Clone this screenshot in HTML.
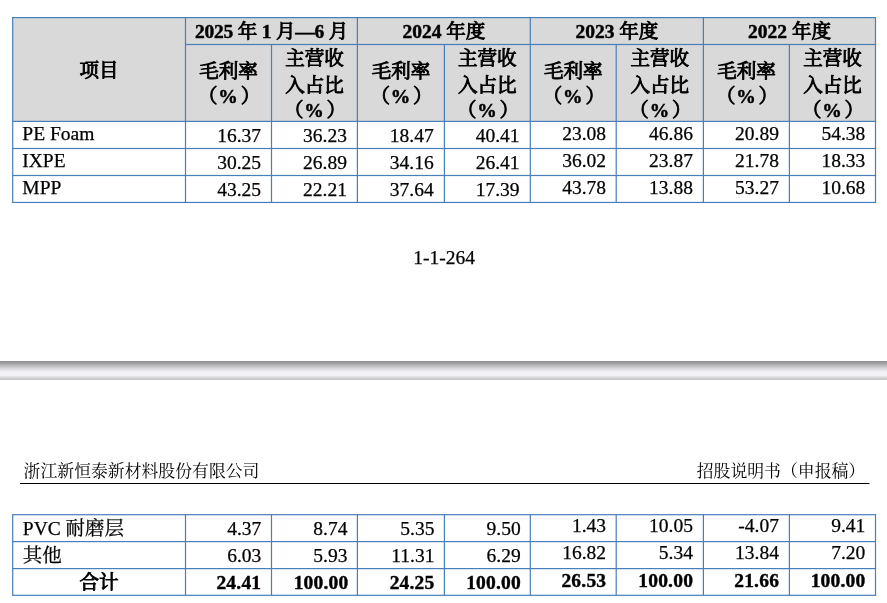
<!DOCTYPE html>
<html lang="zh-CN">
<head>
<meta charset="utf-8">
<title>招股说明书（申报稿）</title>
<style>
html,body{margin:0;padding:0;background:#fff;}
body{width:887px;height:603px;overflow:hidden;position:relative;}
svg{position:absolute;left:0;top:0;display:block;}
text{fill:#000;font-size:19.5px;font-family:"Liberation Serif","Noto Serif CJK SC",serif;}
.b{font-weight:400;stroke:#000;stroke-width:0.25px;}
.bb{font-weight:700;stroke:#000;stroke-width:0.4px;letter-spacing:0.2px;}
.hb{font-weight:700;stroke:#000;stroke-width:0.45px;}
.cj{font-family:"Noto Serif CJK SC",serif;font-weight:400;stroke:#000;stroke-width:0.95px;}
.rh{font-size:16.85px;}
</style>
</head>
<body>
<svg width="887" height="603" viewBox="0 0 887 603">
<defs>
<linearGradient id="sep" gradientUnits="userSpaceOnUse" x1="0" y1="361" x2="0" y2="380">
<stop offset="0.0000" stop-color="#8c8c8e"/>
<stop offset="0.0526" stop-color="#959597"/>
<stop offset="0.1789" stop-color="#adadaf"/>
<stop offset="0.3000" stop-color="#c6c6c8"/>
<stop offset="0.4211" stop-color="#dcdcdf"/>
<stop offset="0.5263" stop-color="#ececf0"/>
<stop offset="0.5789" stop-color="#f2f2f6"/>
<stop offset="0.7526" stop-color="#f2f2f6"/>
<stop offset="0.8158" stop-color="#e4e4e7"/>
<stop offset="0.8895" stop-color="#d4d4d7"/>
<stop offset="0.9632" stop-color="#c8c8cb"/>
<stop offset="1.0000" stop-color="#c6c6c9"/>
</linearGradient>
</defs>
<rect x="12.7" y="17.6" width="862.8" height="103.80000000000001" fill="#d9d9d9"/>
<rect x="12.1" y="17.00" width="864.0" height="1.2" fill="#4a7ebb"/>
<rect x="185.5" y="43.90" width="690.6" height="1.2" fill="#4a7ebb"/>
<rect x="12.1" y="120.80" width="864.0" height="1.2" fill="#4a7ebb"/>
<rect x="12.1" y="147.90" width="864.0" height="1.2" fill="#4a7ebb"/>
<rect x="12.1" y="174.90" width="864.0" height="1.2" fill="#4a7ebb"/>
<rect x="12.1" y="201.85" width="864.0" height="1.2" fill="#4a7ebb"/>
<rect x="12.10" y="17.6" width="1.2" height="184.85" fill="#4a7ebb"/>
<rect x="184.90" y="17.6" width="1.2" height="184.85" fill="#4a7ebb"/>
<rect x="270.90" y="44.5" width="1.2" height="157.95" fill="#4a7ebb"/>
<rect x="356.80" y="17.6" width="1.2" height="184.85" fill="#4a7ebb"/>
<rect x="443.80" y="44.5" width="1.2" height="157.95" fill="#4a7ebb"/>
<rect x="529.70" y="17.6" width="1.2" height="184.85" fill="#4a7ebb"/>
<rect x="615.60" y="44.5" width="1.2" height="157.95" fill="#4a7ebb"/>
<rect x="702.80" y="17.6" width="1.2" height="184.85" fill="#4a7ebb"/>
<rect x="788.80" y="44.5" width="1.2" height="157.95" fill="#4a7ebb"/>
<rect x="874.90" y="17.6" width="1.2" height="184.85" fill="#4a7ebb"/>
<text x="99" y="77" text-anchor="middle" class="hb"><tspan class="cj">项目</tspan></text>
<text x="271.45" y="38" text-anchor="middle" class="hb" xml:space="preserve" style="letter-spacing:-0.22px">2025 <tspan class="cj">年</tspan> 1 <tspan class="cj">月</tspan>—6 <tspan class="cj">月</tspan></text>
<text x="443.84999999999997" y="38" text-anchor="middle" class="hb" xml:space="preserve">2024 <tspan class="cj">年度</tspan></text>
<text x="616.8499999999999" y="38" text-anchor="middle" class="hb" xml:space="preserve">2023 <tspan class="cj">年度</tspan></text>
<text x="789.45" y="38" text-anchor="middle" class="hb" xml:space="preserve">2022 <tspan class="cj">年度</tspan></text>
<text x="228.5" y="78" text-anchor="middle" class="hb"><tspan class="cj">毛利率</tspan></text>
<text x="229.9" y="103" text-anchor="middle" class="hb"><tspan class="cj" dx="-0.8">（</tspan><tspan dx="0.8">%</tspan><tspan class="cj" dx="2.8">）</tspan></text>
<text x="314.45" y="65" text-anchor="middle" class="hb"><tspan class="cj">主营收</tspan></text>
<text x="314.45" y="92" text-anchor="middle" class="hb"><tspan class="cj">入占比</tspan></text>
<text x="315.84999999999997" y="117" text-anchor="middle" class="hb"><tspan class="cj" dx="-0.8">（</tspan><tspan dx="0.8">%</tspan><tspan class="cj" dx="2.8">）</tspan></text>
<text x="400.9" y="78" text-anchor="middle" class="hb"><tspan class="cj">毛利率</tspan></text>
<text x="402.29999999999995" y="103" text-anchor="middle" class="hb"><tspan class="cj" dx="-0.8">（</tspan><tspan dx="0.8">%</tspan><tspan class="cj" dx="2.8">）</tspan></text>
<text x="487.34999999999997" y="65" text-anchor="middle" class="hb"><tspan class="cj">主营收</tspan></text>
<text x="487.34999999999997" y="92" text-anchor="middle" class="hb"><tspan class="cj">入占比</tspan></text>
<text x="488.74999999999994" y="117" text-anchor="middle" class="hb"><tspan class="cj" dx="-0.8">（</tspan><tspan dx="0.8">%</tspan><tspan class="cj" dx="2.8">）</tspan></text>
<text x="573.25" y="78" text-anchor="middle" class="hb"><tspan class="cj">毛利率</tspan></text>
<text x="574.65" y="103" text-anchor="middle" class="hb"><tspan class="cj" dx="-0.8">（</tspan><tspan dx="0.8">%</tspan><tspan class="cj" dx="2.8">）</tspan></text>
<text x="659.8" y="65" text-anchor="middle" class="hb"><tspan class="cj">主营收</tspan></text>
<text x="659.8" y="92" text-anchor="middle" class="hb"><tspan class="cj">入占比</tspan></text>
<text x="661.1999999999999" y="117" text-anchor="middle" class="hb"><tspan class="cj" dx="-0.8">（</tspan><tspan dx="0.8">%</tspan><tspan class="cj" dx="2.8">）</tspan></text>
<text x="746.4" y="78" text-anchor="middle" class="hb"><tspan class="cj">毛利率</tspan></text>
<text x="747.8" y="103" text-anchor="middle" class="hb"><tspan class="cj" dx="-0.8">（</tspan><tspan dx="0.8">%</tspan><tspan class="cj" dx="2.8">）</tspan></text>
<text x="832.45" y="65" text-anchor="middle" class="hb"><tspan class="cj">主营收</tspan></text>
<text x="832.45" y="92" text-anchor="middle" class="hb"><tspan class="cj">入占比</tspan></text>
<text x="833.85" y="117" text-anchor="middle" class="hb"><tspan class="cj" dx="-0.8">（</tspan><tspan dx="0.8">%</tspan><tspan class="cj" dx="2.8">）</tspan></text>
<text x="22.3" y="140" class="b">PE Foam</text>
<text x="261.0" y="142.2" text-anchor="end" class="b">16.37</text>
<text x="346.9" y="142.2" text-anchor="end" class="b">36.23</text>
<text x="433.7" y="142.2" text-anchor="end" class="b">18.47</text>
<text x="519.5999999999999" y="142.2" text-anchor="end" class="b">40.41</text>
<text x="606.1" y="139.8" text-anchor="end" class="b">23.08</text>
<text x="692.9" y="139.8" text-anchor="end" class="b">46.86</text>
<text x="778.9" y="139.8" text-anchor="end" class="b">20.89</text>
<text x="865.3" y="139.8" text-anchor="end" class="b">54.38</text>
<text x="22.3" y="167" class="b">IXPE</text>
<text x="261.0" y="169" text-anchor="end" class="b">30.25</text>
<text x="346.9" y="169" text-anchor="end" class="b">26.89</text>
<text x="433.7" y="169" text-anchor="end" class="b">34.16</text>
<text x="519.5999999999999" y="169" text-anchor="end" class="b">26.41</text>
<text x="606.1" y="166.6" text-anchor="end" class="b">36.02</text>
<text x="692.9" y="166.6" text-anchor="end" class="b">23.87</text>
<text x="778.9" y="166.6" text-anchor="end" class="b">21.78</text>
<text x="865.3" y="166.6" text-anchor="end" class="b">18.33</text>
<text x="22.3" y="194" class="b">MPP</text>
<text x="261.0" y="195.6" text-anchor="end" class="b">43.25</text>
<text x="346.9" y="195.6" text-anchor="end" class="b">22.21</text>
<text x="433.7" y="195.6" text-anchor="end" class="b">37.64</text>
<text x="519.5999999999999" y="195.6" text-anchor="end" class="b">17.39</text>
<text x="606.1" y="193.6" text-anchor="end" class="b">43.78</text>
<text x="692.9" y="193.6" text-anchor="end" class="b">13.88</text>
<text x="778.9" y="193.6" text-anchor="end" class="b">53.27</text>
<text x="865.3" y="193.6" text-anchor="end" class="b">10.68</text>
<text x="444.2" y="263.6" text-anchor="middle" class="b">1-1-264</text>
<rect x="0" y="361" width="887" height="19" fill="url(#sep)"/>
<text x="23.6" y="477" class="rh">浙江新恒泰新材料股份有限公司</text>
<text x="865.2" y="477" text-anchor="end" class="rh">招股说明书（申报稿）</text>
<rect x="20" y="483.00" width="849.5" height="1.0" fill="#000"/>
<rect x="12.1" y="514.10" width="864.0" height="1.2" fill="#4a7ebb"/>
<rect x="12.1" y="541.00" width="864.0" height="1.2" fill="#4a7ebb"/>
<rect x="12.1" y="568.00" width="864.0" height="1.2" fill="#4a7ebb"/>
<rect x="12.1" y="594.70" width="864.0" height="1.2" fill="#4a7ebb"/>
<rect x="12.10" y="514.7" width="1.2" height="80.59999999999991" fill="#4a7ebb"/>
<rect x="184.90" y="514.7" width="1.2" height="80.59999999999991" fill="#4a7ebb"/>
<rect x="270.90" y="514.7" width="1.2" height="80.59999999999991" fill="#4a7ebb"/>
<rect x="356.80" y="514.7" width="1.2" height="80.59999999999991" fill="#4a7ebb"/>
<rect x="443.80" y="514.7" width="1.2" height="80.59999999999991" fill="#4a7ebb"/>
<rect x="529.70" y="514.7" width="1.2" height="80.59999999999991" fill="#4a7ebb"/>
<rect x="615.60" y="514.7" width="1.2" height="80.59999999999991" fill="#4a7ebb"/>
<rect x="702.80" y="514.7" width="1.2" height="80.59999999999991" fill="#4a7ebb"/>
<rect x="788.80" y="514.7" width="1.2" height="80.59999999999991" fill="#4a7ebb"/>
<rect x="874.90" y="514.7" width="1.2" height="80.59999999999991" fill="#4a7ebb"/>
<text x="22.8" y="535" class="b" xml:space="preserve">PVC 耐磨层</text>
<text x="261.3" y="534.6" text-anchor="end" class="b">4.37</text>
<text x="347.4" y="534.6" text-anchor="end" class="b">8.74</text>
<text x="434.4" y="534.6" text-anchor="end" class="b">5.35</text>
<text x="520.6999999999999" y="534.6" text-anchor="end" class="b">9.50</text>
<text x="606.1" y="532" text-anchor="end" class="b">1.43</text>
<text x="692.9" y="532" text-anchor="end" class="b">10.05</text>
<text x="778.9" y="532" text-anchor="end" class="b">-4.07</text>
<text x="865.3" y="532" text-anchor="end" class="b">9.41</text>
<text x="22.8" y="562" class="b" xml:space="preserve">其他</text>
<text x="261.3" y="561.6" text-anchor="end" class="b">6.03</text>
<text x="347.4" y="561.6" text-anchor="end" class="b">5.93</text>
<text x="434.4" y="561.6" text-anchor="end" class="b">11.31</text>
<text x="520.6999999999999" y="561.6" text-anchor="end" class="b">6.29</text>
<text x="606.1" y="559.4" text-anchor="end" class="b">16.82</text>
<text x="692.9" y="559.4" text-anchor="end" class="b">5.34</text>
<text x="778.9" y="559.4" text-anchor="end" class="b">13.84</text>
<text x="865.3" y="559.4" text-anchor="end" class="b">7.20</text>
<text x="99" y="589" text-anchor="middle" class="hb"><tspan class="cj">合计</tspan></text>
<text x="261.3" y="588.8" text-anchor="end" class="bb">24.41</text>
<text x="348.5" y="588.8" text-anchor="end" class="bb">100.00</text>
<text x="434.5" y="588.8" text-anchor="end" class="bb">24.25</text>
<text x="521.0" y="588.8" text-anchor="end" class="bb">100.00</text>
<text x="606.3000000000001" y="586.6" text-anchor="end" class="bb">26.53</text>
<text x="693.1" y="586.6" text-anchor="end" class="bb">100.00</text>
<text x="779.1" y="586.6" text-anchor="end" class="bb">21.66</text>
<text x="865.5" y="586.6" text-anchor="end" class="bb">100.00</text>
</svg>
</body>
</html>
